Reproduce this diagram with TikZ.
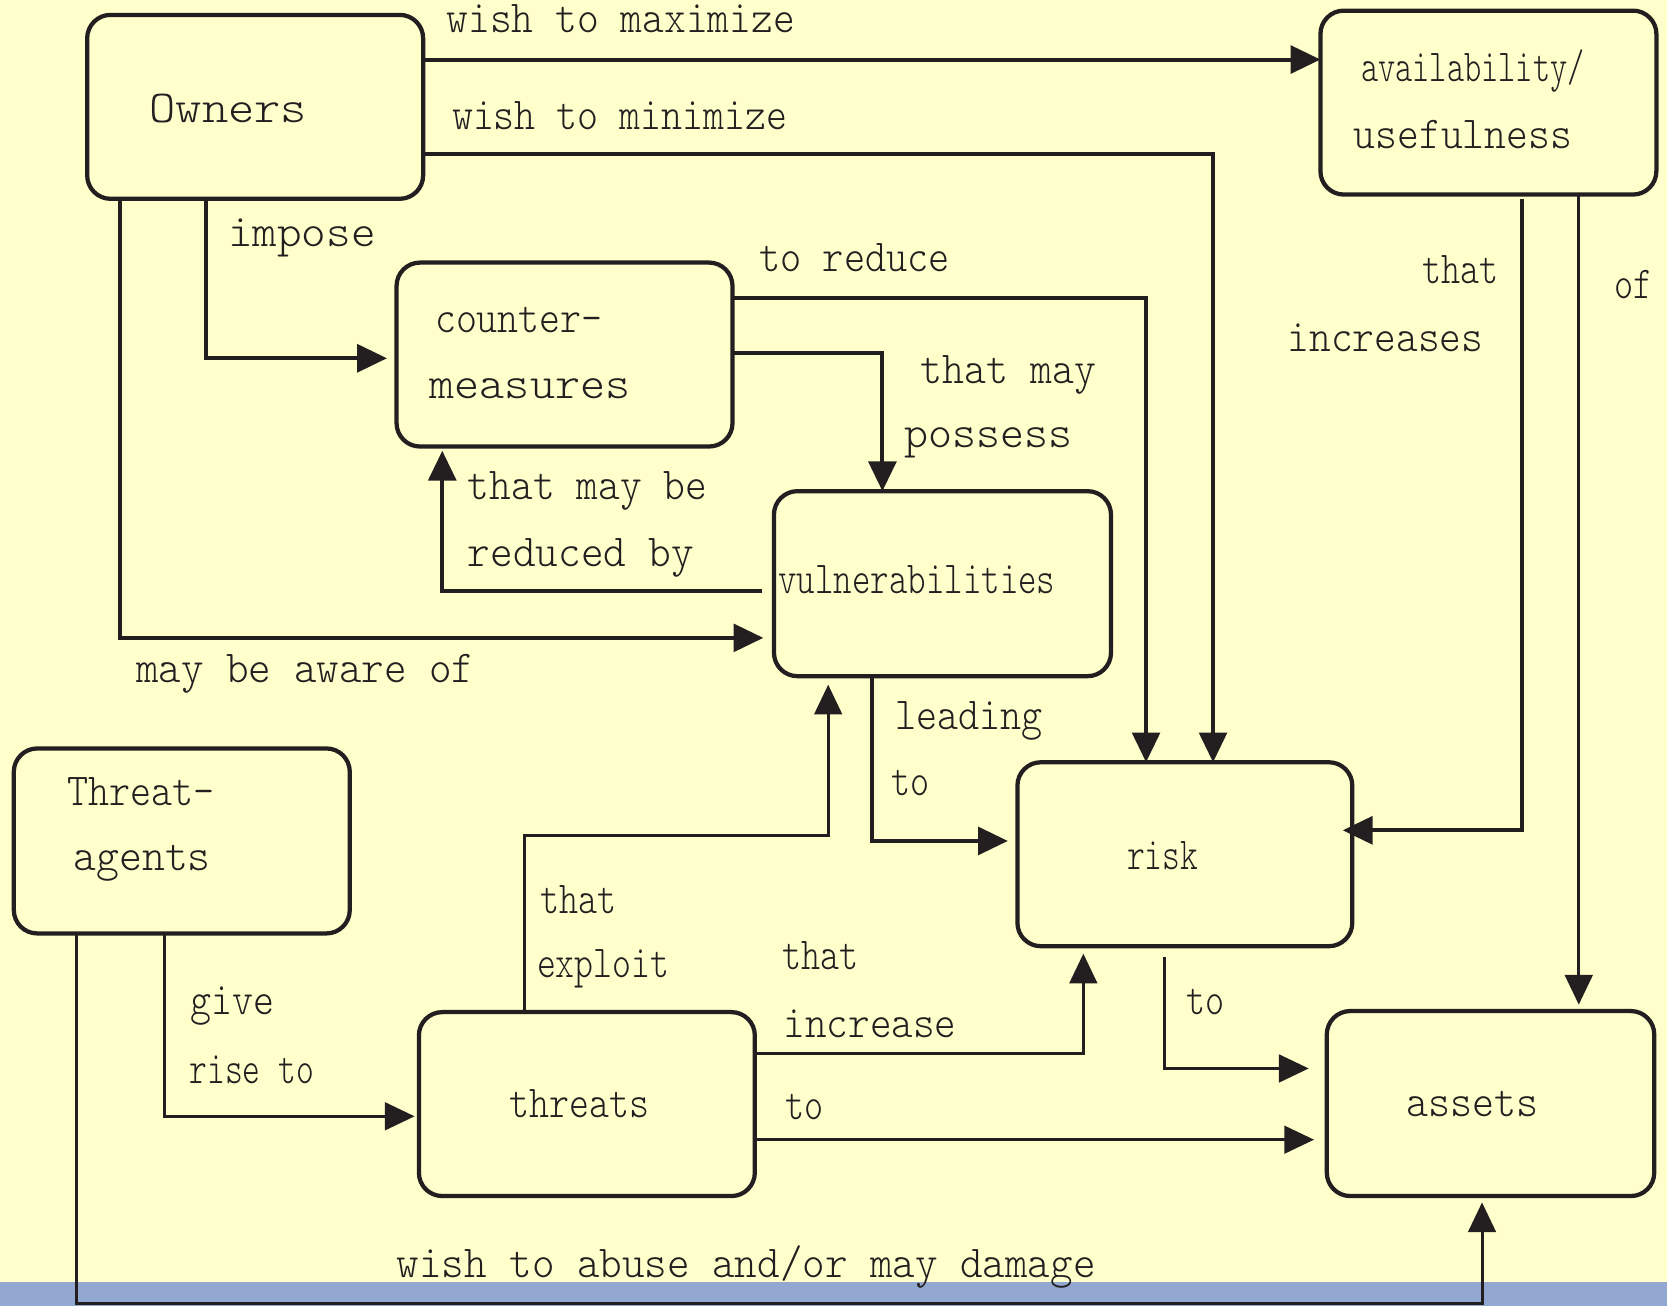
\documentclass[tikz,border=0pt]{standalone}
\usepackage{fontspec}
\usepackage{graphicx}
\usetikzlibrary{arrows.meta}
\newfontfamily\refsans{Liberation Sans}
\newcommand\refmono{\fontfamily{lmtt}\fontseries{l}\selectfont}
\newlength\twid
\newcommand\rtxt[1]{\settowidth{\twid}{\refsans #1}\resizebox{\twid}{\height}{\refmono #1}}
\definecolor{bg}{HTML}{FFFFCC}
\definecolor{bar}{HTML}{92A8D1}
\definecolor{ink}{HTML}{231F20}
\begin{document}
\begin{tikzpicture}[x=1pt,y=-1pt,
  box/.style={draw=ink, line width=4pt, rounded corners=22pt, minimum width=316pt, minimum height=173pt, inner sep=0pt, outer sep=0pt, anchor=north west},
  lbl/.style={anchor=base west, inner sep=0pt, text=ink, font=\fontsize{43}{50}\selectfont},
  thickconn/.style={draw=ink, line width=3.8pt, -{Triangle[length=28pt,width=26pt]}},
  thinconn/.style={draw=ink, line width=2.8pt, -{Triangle[length=28pt,width=26pt]}}
]
\useasboundingbox (0,0) rectangle (1568,1228);
\fill[bg] (0,0) rectangle (1568,1228);
\fill[bar] (0,1205.5) rectangle (1568,1228);

% boxes
\node[box] (owners) at (82,14) {};
\node[box] (avail) at (1242,10) {};
\node[box] (counter) at (373,247) {};
\node[box, minimum width=317pt, minimum height=174pt] (vuln) at (728,462) {};
\node[box, minimum height=174pt] (tagents) at (13,704) {};
\node[box, minimum width=315pt] (risk) at (957,717) {};
\node[box] (threats) at (394,952) {};
\node[box, minimum width=308pt, minimum height=174pt] (assets) at (1248,951) {};

% box texts
\node[lbl] (tOwners) at (140.5,115) {\rtxt{Owners}};
\node[lbl] (tAvail1) at (1280,77) {\rtxt{availability/}};
\node[lbl] (tAvail2) at (1273,140) {\rtxt{usefulness}};
\node[lbl] (tCount1) at (409,313) {\rtxt{counter-}};
\node[lbl] (tCount2) at (404,375) {\rtxt{measures}};
\node[lbl] (tVuln) at (732,558) {\rtxt{vulnerabilities}};
\node[lbl] (tTA1) at (63,758) {\rtxt{Threat-}};
\node[lbl] (tTA2) at (69,819) {\rtxt{agents}};
\node[lbl] (tRisk) at (1060,818) {\rtxt{risk}};
\node[lbl] (tThreats) at (479,1051) {\rtxt{threats}};
\node[lbl] (tAssets) at (1323,1050) {\rtxt{assets}};

% connectors
\draw[thickconn] (owners.east |- 0,56) -- (avail.west |- 0,56);
\draw[thickconn] (owners.east |- 0,145) -- (1141,145) -- (risk.north -| 1141,0);
\draw[thickconn, shorten >=9pt] (owners.south -| 194,0) -- (194,337) -- (counter.west |- 0,337);
\draw[thickconn, shorten >=10pt] (owners.south -| 113,0) -- (113,600) -- (vuln.west |- 0,600);
\draw[thickconn] (counter.east |- 0,280) -- (1078,280) -- (risk.north -| 1078,0);
\draw[thickconn] (counter.east |- 0,332) -- (830,332) -- (vuln.north -| 830,0);
\draw[thickconn, shorten <=11pt, shorten >=4pt] (vuln.west |- 0,556) -- (416,556) -- (counter.south -| 416,0);
\draw[thickconn, shorten >=9pt] (vuln.south -| 820,0) -- (820,791) -- (risk.west |- 0,791);
\draw[thinconn, shorten >=8pt] (threats.north -| 493,0) -- (493,786) -- (779,786) -- (vuln.south -| 779,0);
\draw[thinconn, shorten >=7pt] (threats.east |- 0,991) -- (1019,991) -- (risk.south -| 1019,0);
\draw[thinconn, shorten >=12pt] (threats.east |- 0,1072) -- (assets.west |- 0,1072);
\draw[thinconn, shorten >=4pt] (tagents.south -| 155,0) -- (155,1050) -- (threats.west |- 0,1050);
\draw[thinconn, shorten >=6pt] (tagents.south -| 72,0) -- (72,1226.5) -- (1394,1226.5) -- (assets.south -| 1394,0);
\draw[thinconn, shorten <=10pt, shorten >=17pt] (risk.south -| 1095,0) -- (1095,1005) -- (assets.west |- 0,1005);
\draw[thickconn, shorten <=4pt, shorten >=-9pt] (avail.south -| 1432,0) -- (1432,781) -- (risk.east |- 0,781);
\draw[thinconn, shorten >=6pt] (avail.south -| 1485,0) -- (assets.north -| 1485,0);

% connector labels
\node[lbl] (lMax) at (420,31) {\rtxt{wish to maximize}};
\node[lbl] (lMin) at (425,122) {\rtxt{wish to minimize}};
\node[lbl] (lImpose) at (214.5,232) {\rtxt{impose}};
\node[lbl] (lAware) at (128,642) {\rtxt{may be aware of}};
\node[lbl] (lReduce) at (714,255) {\rtxt{to reduce}};
\node[lbl] (lPoss1) at (866,361) {\rtxt{that may}};
\node[lbl] (lPoss2) at (851,421) {\rtxt{possess}};
\node[lbl] (lRed1) at (440,470) {\rtxt{that may be}};
\node[lbl] (lRed2) at (440,533) {\rtxt{reduced by}};
\node[lbl] (lLead1) at (842,686) {\rtxt{leading}};
\node[lbl] (lLead2) at (838,748) {\rtxt{to}};
\node[lbl] (lExp1) at (508,859) {\rtxt{that}};
\node[lbl] (lExp2) at (505,919) {\rtxt{exploit}};
\node[lbl] (lInc1) at (736,912) {\rtxt{that}};
\node[lbl] (lInc2) at (737,976) {\rtxt{increase}};
\node[lbl] (lTo1) at (739,1053) {\rtxt{to}};
\node[lbl] (lGive1) at (179,954) {\rtxt{give}};
\node[lbl] (lGive2) at (178,1019) {\rtxt{rise to}};
\node[lbl] (lAbuse) at (373,1202) {\rtxt{wish to abuse and/or may damage}};
\node[lbl] (lTo2) at (1116,954) {\rtxt{to}};
\node[lbl] (lIncs1) at (1338,267) {\rtxt{that}};
\node[lbl] (lIncs2) at (1211,331) {\rtxt{increases}};
\node[lbl] (lOf) at (1518,281) {\rtxt{of}};
\end{tikzpicture}
\end{document}
